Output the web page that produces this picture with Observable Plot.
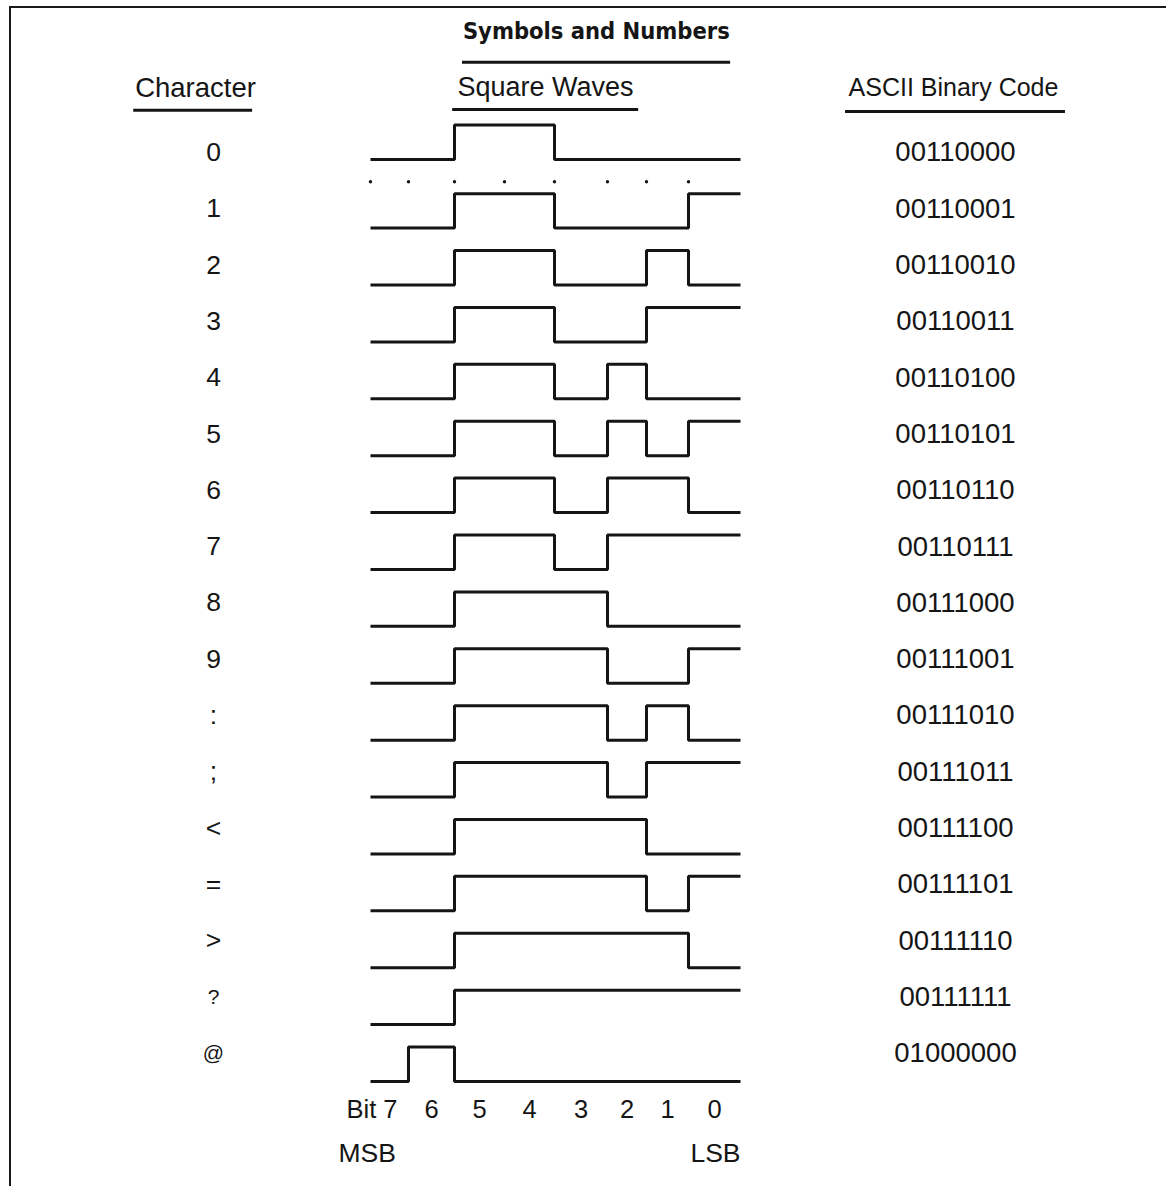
<!DOCTYPE html>
<html>
<head>
<meta charset="utf-8">
<script src="https://cdn.jsdelivr.net/npm/d3@7"></script>
<script src="https://cdn.jsdelivr.net/npm/@observablehq/plot@0.6"></script>
<style>
  html, body { margin: 0; padding: 0; background: #fff; }
  #fig { position: relative; width: 1166px; height: 1186px; overflow: hidden; background: #fff; }
  #fig svg { position: absolute; left: 0; top: 0; }
  #frame { position: absolute; left: 9px; top: 6px; width: 1300px; height: 1300px;
           border-left: 2px solid #1a1a1a; border-top: 2px solid #1a1a1a; }
</style>
</head>
<body>
<div id="fig"><div id="frame"></div></div>
<script>
// ---------------- data ----------------
const title = "Symbols and Numbers";
const headers = ["Character", "Square Waves", "ASCII Binary Code"];
const characters = ["0","1","2","3","4","5","6","7","8","9",":",";","<","=",">","?","@"];
const codes = ["00110000","00110001","00110010","00110011","00110100","00110101",
               "00110110","00110111","00111000","00111001","00111010","00111011",
               "00111100","00111101","00111110","00111111","01000000"];
const bitNumbers = [7, 6, 5, 4, 3, 2, 1, 0];
const bitLabels = ["Bit 7", "6", "5", "4", "3", "2", "1", "0"];
const endLabels = ["MSB", "LSB"];

// ---------------- style / layout ----------------
const W = 1166, H = 1186;
const ink = "#151515";
const font = "'Liberation Sans', Arial, Helvetica, sans-serif";
const titleFont = "'Liberation Sans Narrow', 'DejaVu Sans Condensed', 'Liberation Sans', sans-serif";
const waveHeight = 0.606;          // high level offset, in row units
const dotGap = 0.206;              // extra room after row 0 for the dotted bit-boundary line
const slot = r => r + (r >= 1 ? dotGap : 0);
const edges = d3.range(8, -1, -1); // bit cell edges, 8 (left of bit 7) .. 0 (right of bit 0)
const bitEdgesPx = [370, 408, 454, 504, 554, 607, 646, 688, 740]; // hand-drawn (uneven) cell edges
const warp = d3.scaleLinear().domain(edges).range(bitEdgesPx);

// wave points built from the codes (bit 7 first)
const wavePts = [];
codes.forEach((c, row) => {
  const bits = c.split("").map(Number);
  bits.forEach((b, k) => wavePts.push({row, edge: 8 - k, level: b}));
  wavePts.push({row, edge: 0, level: bits[7]});
});

// ---------------- plot B: square waves ----------------
const waves = Plot.plot({
  width: W, height: H, margin: 0,
  style: {background: "none", fontFamily: font, color: ink, overflow: "visible"},
  x: {transform: warp, domain: [bitEdgesPx[0], bitEdgesPx[8]], range: [bitEdgesPx[0], bitEdgesPx[8]], axis: null},
  y: {domain: [0, slot(16)], range: [159, 1081], axis: null},
  marks: [
    Plot.line(wavePts, {x: "edge", y: d => slot(d.row) - d.level * waveHeight, z: "row",
      curve: "step-after", stroke: ink, strokeWidth: 3, strokeLinejoin: "miter", strokeLinecap: "butt"}),
    Plot.dot(edges.slice(0, 8), {x: d => d, y: 0.39, r: 1.7, fill: ink, stroke: null}),
    Plot.text([bitLabels[0]], {x: bitNumbers[0] + 0.5, y: 16.71, textAnchor: "end", dx: 8,
      fontSize: 25.5, fill: ink, fontFamily: font}),
    Plot.text(bitNumbers.slice(1), {x: d => d + 0.5, y: 16.71, text: (d, i) => bitLabels[i + 1],
      fontSize: 25.5, fill: ink, fontFamily: font}),
    Plot.text([endLabels[0]], {x: 8, y: 17.47, textAnchor: "start", dx: -32,
      fontSize: 26.5, fill: ink, fontFamily: font}),
    Plot.text([endLabels[1]], {x: 0, y: 17.47, textAnchor: "end",
      fontSize: 26.5, fill: ink, fontFamily: font}),
    Plot.text([headers[1]], {x: 4, y: -1.26, dx: -9, fontSize: 27, fill: ink, fontFamily: font}),
    Plot.ruleY([-0.88], {x1: 6.04, x2: 2.2, stroke: ink, strokeWidth: 3}),
    Plot.text([title], {x: 3.21, y: -2.25, fontSize: 23.5, fontWeight: "bold", fill: ink, fontFamily: titleFont}),
    Plot.ruleY([-1.71], {x1: 5.84, x2: 0.19, stroke: ink, strokeWidth: 3})
  ]
});

// ---------------- plot A: character + code columns ----------------
const table = Plot.plot({
  width: W, height: H, margin: 0,
  style: {background: "none", fontFamily: font, color: ink, overflow: "visible"},
  x: {domain: [0, 1], range: [212, 955], axis: null},
  y: {domain: [0, 16], range: [152, 1053], axis: null},
  marks: [
    Plot.text(characters, {x: 0, y: (d, i) => i, text: d => d, dx: 1,
      fontSize: d => (d === "@" || d === "?") ? 21 : 26.5, fill: ink, fontFamily: font}),
    Plot.text(codes, {x: 1, y: (d, i) => i, text: d => d, fontSize: 27.5, fill: ink, fontFamily: font}),
    Plot.text([headers[0]], {x: 0, y: -1.14, dx: -17, fontSize: 27.5, fill: ink, fontFamily: font}),
    Plot.text([headers[2]], {x: 1, y: -1.14, dx: -2, fontSize: 25, fill: ink, fontFamily: font}),
    Plot.ruleY([-0.75], {x1: -0.106, x2: 0.054, stroke: ink, strokeWidth: 3}),
    Plot.ruleY([-0.73], {x1: 0.852, x2: 1.148, stroke: ink, strokeWidth: 3})
  ]
});

const fig = document.getElementById("fig");
fig.appendChild(waves);
fig.appendChild(table);
</script>
</body>
</html>
